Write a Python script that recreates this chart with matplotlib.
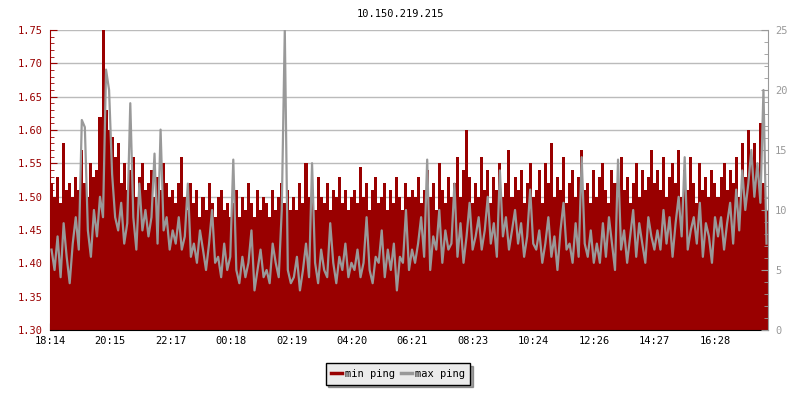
import numpy as np
import matplotlib.pyplot as plt
from matplotlib.lines import Line2D

# min ping in ms (left axis), one value per ~6 minutes
min_ping = [
    1.52, 1.50, 1.53, 1.49, 1.58, 1.51, 1.52, 1.50, 1.53, 1.51, 1.57, 1.52, 1.50, 1.55, 1.53, 1.54, 1.62, 1.75, 1.63, 1.60,
    1.59, 1.56, 1.58, 1.52, 1.55, 1.51, 1.54, 1.56, 1.50, 1.53, 1.55, 1.51, 1.52, 1.54, 1.50, 1.53, 1.51, 1.55, 1.52, 1.50,
    1.51, 1.49, 1.52, 1.56, 1.50, 1.48, 1.52, 1.49, 1.51, 1.47, 1.50, 1.48, 1.52, 1.49, 1.47, 1.50, 1.51, 1.48, 1.49, 1.47,
    1.49, 1.51, 1.47, 1.50, 1.48, 1.52, 1.49, 1.47, 1.51, 1.48, 1.50, 1.49, 1.47, 1.51, 1.48, 1.50, 1.52, 1.49, 1.51, 1.48,
    1.50, 1.48, 1.52, 1.49, 1.55, 1.50, 1.51, 1.48, 1.53, 1.50, 1.49, 1.52, 1.48, 1.51, 1.50, 1.53, 1.49, 1.51, 1.48, 1.50,
    1.51, 1.49, 1.545, 1.50, 1.52, 1.48, 1.51, 1.53, 1.49, 1.50, 1.52, 1.48, 1.51, 1.49, 1.53, 1.50, 1.48, 1.52, 1.50, 1.51,
    1.50, 1.53, 1.49, 1.51, 1.54, 1.50, 1.52, 1.48, 1.55, 1.51, 1.49, 1.53, 1.50, 1.52, 1.56, 1.50, 1.54, 1.60, 1.53, 1.49,
    1.52, 1.50, 1.56, 1.51, 1.54, 1.49, 1.53, 1.51, 1.55, 1.50, 1.52, 1.57, 1.50, 1.53, 1.51, 1.54, 1.49, 1.52, 1.55, 1.50,
    1.51, 1.54, 1.49, 1.55, 1.52, 1.58, 1.50, 1.53, 1.51, 1.56, 1.49, 1.52, 1.54, 1.50, 1.53, 1.57, 1.51, 1.52, 1.49, 1.54,
    1.50, 1.53, 1.55, 1.51, 1.49, 1.54, 1.52, 1.50, 1.56, 1.51, 1.53, 1.49, 1.52, 1.55, 1.50, 1.54, 1.51, 1.53, 1.57, 1.52,
    1.54, 1.51, 1.56, 1.50, 1.53, 1.55, 1.52, 1.57, 1.50, 1.54, 1.51, 1.56, 1.52, 1.49, 1.55, 1.51, 1.53, 1.50, 1.54, 1.52,
    1.50, 1.53, 1.55, 1.51, 1.54, 1.52, 1.56, 1.50, 1.58, 1.53, 1.60, 1.55, 1.58, 1.54, 1.61, 1.52, 1.48,
]

# max ping in ms (right axis)
max_ping = [
    6.7, 5.0, 7.8, 4.4, 8.9, 6.1, 3.9, 7.2, 9.4, 6.7, 17.5, 16.9, 8.3, 6.1, 10.0, 7.8, 11.1, 9.4, 21.7, 20.0,
    13.0, 9.4, 8.3, 10.6, 7.2, 8.9, 18.9, 9.4, 6.7, 12.2, 8.3, 10.0, 7.8, 9.4, 14.7, 7.2, 16.7, 8.3, 9.4, 6.7,
    8.3, 7.2, 9.4, 6.7, 7.8, 12.2, 6.1, 7.2, 5.6, 8.3, 6.7, 5.0, 7.2, 10.0, 5.6, 6.1, 4.4, 7.2, 5.0, 6.1,
    14.2, 5.0, 3.9, 6.1, 4.4, 5.6, 8.3, 3.3, 5.0, 6.7, 4.4, 5.0, 3.9, 7.2, 5.6, 4.4, 10.0, 25.0, 5.0, 3.9,
    4.4, 6.1, 3.3, 5.0, 7.2, 4.4, 13.9, 5.6, 3.9, 6.7, 5.0, 4.4, 8.9, 5.6, 3.9, 6.1, 5.0, 7.2, 4.4, 5.6,
    5.0, 6.7, 4.4, 5.6, 9.4, 5.0, 3.9, 6.1, 5.6, 8.3, 4.4, 6.7, 5.0, 7.2, 3.3, 6.1, 5.6, 10.0, 5.0, 6.7,
    5.6, 7.2, 9.4, 6.1, 14.2, 5.0, 7.8, 6.7, 10.0, 5.6, 8.3, 6.7, 7.2, 12.2, 6.1, 8.9, 5.6, 7.8, 10.6, 6.7,
    7.8, 9.4, 6.7, 8.3, 11.1, 7.2, 8.9, 6.1, 13.3, 7.8, 9.4, 6.7, 8.3, 10.0, 7.2, 8.9, 6.1, 7.8, 11.7, 7.2,
    6.7, 8.3, 5.6, 7.2, 9.4, 6.1, 7.8, 5.0, 8.3, 10.6, 6.7, 7.2, 5.6, 8.9, 6.1, 14.4, 7.2, 6.1, 8.3, 5.6,
    7.2, 5.6, 8.9, 6.1, 9.4, 7.2, 5.0, 14.2, 6.7, 8.3, 5.6, 7.8, 10.0, 6.1, 8.9, 7.2, 5.6, 9.4, 7.8, 6.7,
    8.3, 6.7, 10.0, 7.2, 9.4, 6.1, 8.9, 11.1, 7.8, 14.4, 6.7, 8.3, 9.4, 7.2, 10.6, 6.1, 8.9, 7.8, 5.6, 9.4,
    7.8, 9.4, 6.7, 8.9, 10.6, 7.2, 11.7, 8.3, 13.3, 10.0, 12.2, 15.0, 11.1, 13.9, 10.6, 20.0, 7.2,
]

tick_labels = ['18:14', '20:15', '22:17', '00:18', '02:19', '04:20',
               '06:21', '08:23', '10:24', '12:26', '14:27', '16:28']

red = '#990000'
gray = '#999999'
plt.rcParams['font.family'] = 'DejaVu Sans Mono'
plt.rcParams['font.size'] = 7.5

# time axis in minutes since the first label, 24h total
n = len(min_ping)
step = 1440 / n
t = np.arange(n) * step
h0, m0 = map(int, tick_labels[0].split(':'))
tick_pos = [((int(s[:2]) * 60 + int(s[3:])) - (h0 * 60 + m0)) % 1440 for s in tick_labels]

fig = plt.figure(figsize=(8, 4), dpi=100)
ax = fig.add_axes([0.0625, 0.175, 0.8975, 0.75])
ax2 = ax.twinx()

ax.bar(t, np.array(min_ping) - 1.30, bottom=1.30, width=step, align='edge',
       color=red, linewidth=0, antialiased=False)
ax2.plot(t + step / 2, max_ping, color=gray, lw=1.6)

ax.set_xlim(0, 1440)
ax.set_ylim(1.30, 1.75)
ax2.set_ylim(0, 25)

ax.set_yticks(np.arange(1.30, 1.751, 0.05))
ax.set_yticks(np.arange(1.30, 1.751, 0.01), minor=True)
ax.yaxis.set_major_formatter(plt.FormatStrFormatter('%.2f'))
ax.tick_params(axis='y', which='both', direction='in', colors=red, labelcolor=red)
ax.tick_params(axis='y', which='major', length=5, pad=5)
ax.tick_params(axis='y', which='minor', length=3)

ax2.set_yticks(np.arange(0, 26, 5))
ax2.set_yticks(np.arange(0, 26, 1), minor=True)
ax2.tick_params(axis='y', which='both', direction='in', colors=gray, labelcolor=gray)
ax2.tick_params(axis='y', which='major', length=5, pad=5)
ax2.tick_params(axis='y', which='minor', length=3)

ax.set_xticks(tick_pos)
ax.set_xticklabels(tick_labels)
ax.tick_params(axis='x', direction='in', length=5, pad=4, colors='black')

ax.grid(axis='y', color='#bbbbbb', lw=1)
ax.set_axisbelow(True)

for a in (ax, ax2):
    a.spines['top'].set_visible(False)
ax.spines['right'].set_visible(False)
ax.spines['left'].set_color(red)
ax2.spines['left'].set_visible(False)
ax2.spines['bottom'].set_visible(False)
ax2.spines['right'].set_color(gray)

fig.text(0.5, 0.965, '10.150.219.215', ha='center', va='center')

handles = [Line2D([], [], color=red, lw=2.5), Line2D([], [], color=gray, lw=2.5)]
leg = fig.legend(handles, ['min ping', 'max ping'], loc='upper center',
                 bbox_to_anchor=(0.4975, 0.105), ncol=2, fancybox=False, shadow=True,
                 edgecolor='black', facecolor='#ebebeb', framealpha=1,
                 handlelength=1.0, handletextpad=0.3, columnspacing=0.6, borderpad=0.55)
leg.get_frame().set_linewidth(1)

fig.savefig('out.png', dpi=100)
